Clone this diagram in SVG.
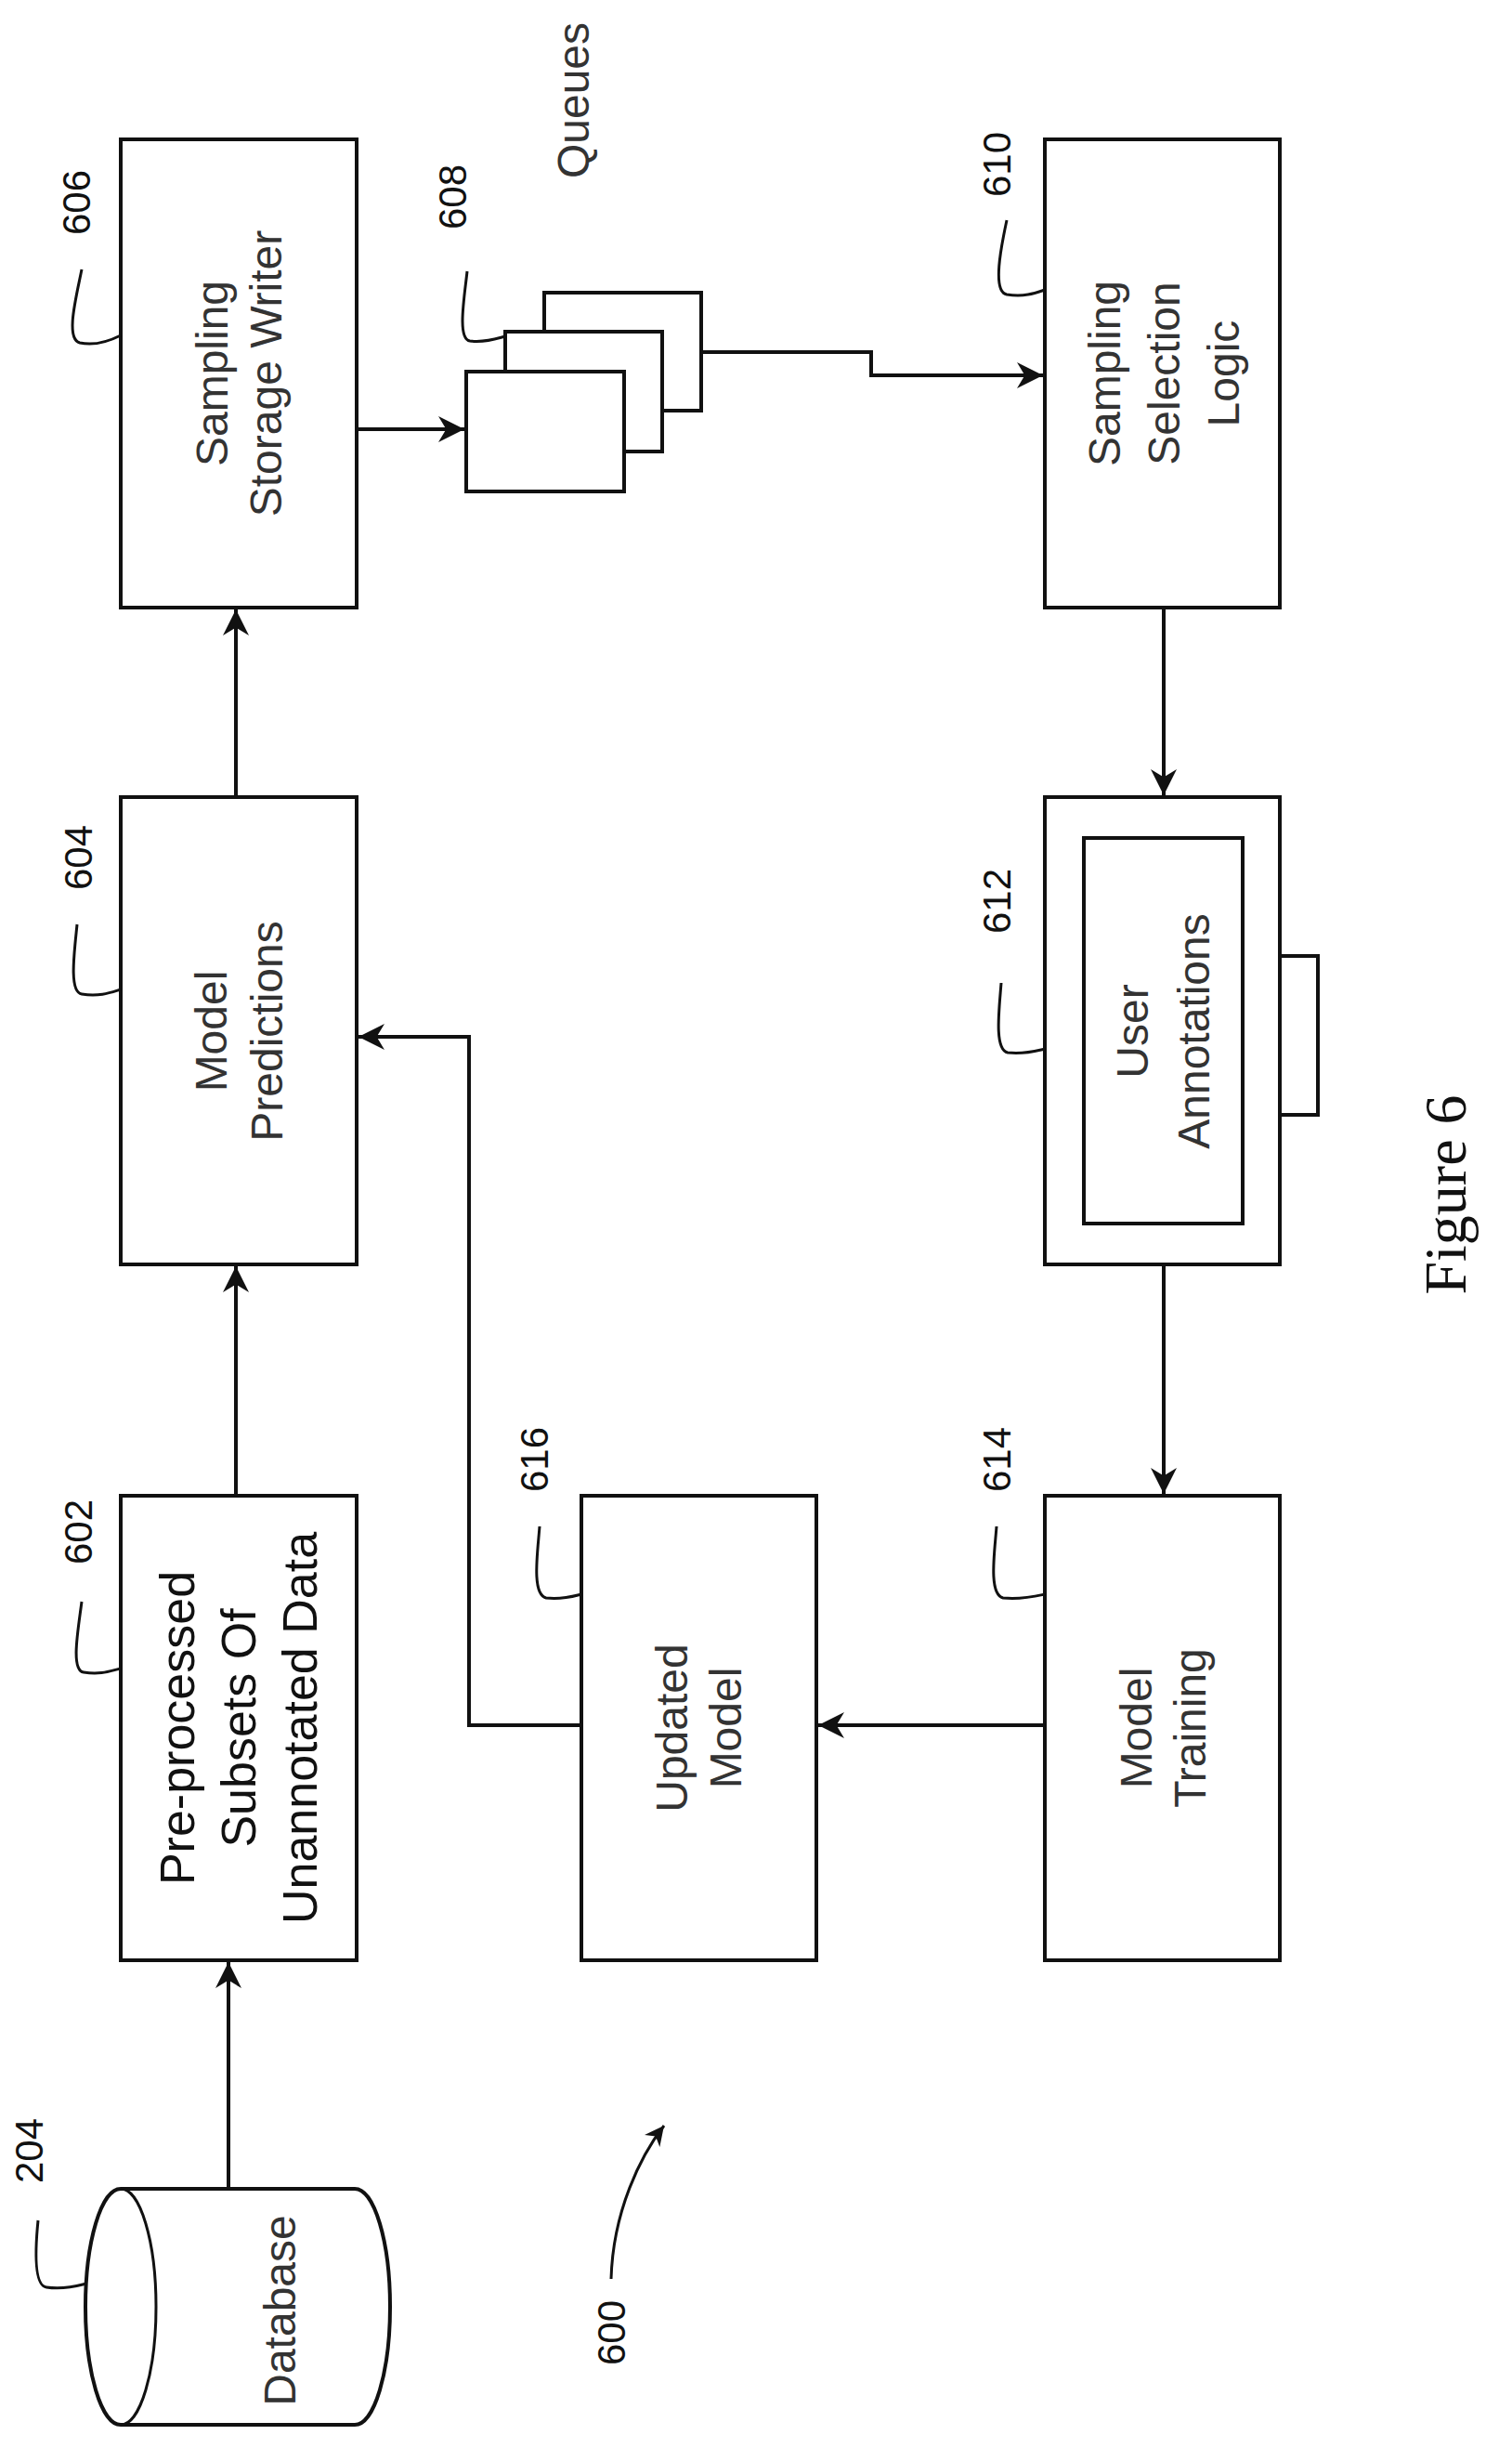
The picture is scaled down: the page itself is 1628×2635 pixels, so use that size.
<svg xmlns="http://www.w3.org/2000/svg" width="1628" height="2635" viewBox="0 0 1628 2635">
<style>
.box{fill:#fff;stroke:#111;stroke-width:4}
.ln{fill:none;stroke:#111;stroke-width:4}
.ld{fill:none;stroke:#111;stroke-width:3}
.num{font-family:"Liberation Sans",Arial,sans-serif;font-size:42px;fill:#111;text-anchor:middle;dominant-baseline:central}
.lbl{font-family:"Liberation Sans",Arial,sans-serif;font-size:48px;fill:#333;text-anchor:middle;dominant-baseline:central}
.lbl2{font-family:"Liberation Sans",Arial,sans-serif;font-size:52px;fill:#111;text-anchor:middle;dominant-baseline:central}
</style>
<defs>
<marker id="ah" viewBox="0 0 10 10" refX="10" refY="5" markerWidth="7" markerHeight="7" markerUnits="strokeWidth" orient="auto"><path d="M0,0 L10,5 L0,10 L3,5 Z" fill="#111"/></marker>
</defs>
<rect width="1628" height="2635" fill="#fff"/>

<g id="connectors">
<path class="ln" d="M246,2356 V2112" stroke-width="6" marker-end="url(#ah)"/>
<path class="ln" d="M254,1610 V1363" marker-end="url(#ah)"/>
<path class="ln" d="M254,858 V656" marker-end="url(#ah)"/>
<path class="ln" d="M384,462 H500" marker-end="url(#ah)"/>
<path class="ln" d="M755,379 H938 V404 H1123" marker-end="url(#ah)"/>
<path class="ln" d="M1253,654 V856" marker-end="url(#ah)"/>
<path class="ln" d="M1253,1361 V1608" marker-end="url(#ah)"/>
<path class="ln" d="M1125,1857 H881" marker-end="url(#ah)"/>
<path class="ln" d="M626,1857 H505 V1116 H386" marker-end="url(#ah)"/>
<path class="ld" d="M658,2453 C660,2380 690,2320 715,2288" marker-end="url(#ah)"/>
</g>

<g id="n204">
<path class="box" d="M130,2356 H382 A38,127 0 0 1 382,2610 H130 A38,127 0 0 1 130,2356 Z"/>
<path class="ld" d="M130,2356 A38,127 0 0 1 130,2610"/>
<text class="lbl" transform="translate(301,2487) rotate(-90)">Database</text>
<path class="ld" d="M41,2390 C38,2420 36,2460 50,2462 C70,2465 85,2460 93,2458"/>
<text class="num" transform="translate(31,2315) rotate(-90)">204</text>
</g>

<g id="n602">
<rect class="box" x="130" y="1610" width="254" height="500"/>
<g transform="translate(257,1860) rotate(-90)">
<text class="lbl2" x="0" y="-66">Pre-processed</text>
<text class="lbl2" x="0" y="0">Subsets Of</text>
<text class="lbl2" x="0" y="66">Unannotated Data</text>
</g>
<path class="ld" d="M88,1724 C84,1755 76,1798 90,1800 C110,1803 120,1798 130,1796"/>
<text class="num" transform="translate(84,1649) rotate(-90)">602</text>
</g>

<g id="n604">
<rect class="box" x="130" y="858" width="254" height="503"/>
<g transform="translate(257,1110) rotate(-90)">
<text class="lbl" x="0" y="-30">Model</text>
<text class="lbl" x="0" y="30">Predictions</text>
</g>
<path class="ld" d="M83,995 C80,1025 74,1068 88,1070 C108,1073 120,1068 130,1065"/>
<text class="num" transform="translate(84,923) rotate(-90)">604</text>
</g>

<g id="n606">
<rect class="box" x="130" y="150" width="254" height="504"/>
<g transform="translate(257,402) rotate(-90)">
<text class="lbl" x="0" y="-29">Sampling</text>
<text class="lbl" x="0" y="29">Storage Writer</text>
</g>
<path class="ld" d="M88,290 C82,320 70,365 86,369 C104,373 120,366 130,361"/>
<text class="num" transform="translate(82,218) rotate(-90)">606</text>
</g>

<g id="n608">
<rect class="box" x="586" y="315" width="169" height="127"/>
<rect class="box" x="544" y="357" width="169" height="129"/>
<rect class="box" x="502" y="400" width="170" height="129"/>
<path class="ld" d="M503,292 C500,320 492,365 506,367 C524,369 536,364 544,362"/>
<text class="num" transform="translate(487,212) rotate(-90)">608</text>
<text class="lbl" transform="translate(617,108) rotate(-90)">Queues</text>
</g>

<g id="n610">
<rect class="box" x="1125" y="150" width="253" height="504"/>
<g transform="translate(1253,402) rotate(-90)">
<text class="lbl" x="0" y="-64">Sampling</text>
<text class="lbl" x="0" y="0">Selection</text>
<text class="lbl" x="0" y="64">Logic</text>
</g>
<path class="ld" d="M1084,237 C1078,265 1068,314 1084,317 C1104,320 1116,315 1125,312"/>
<text class="num" transform="translate(1073,177) rotate(-90)">610</text>
</g>

<g id="n612">
<rect class="box" x="1378" y="1029" width="41" height="171"/>
<rect class="box" x="1125" y="858" width="253" height="503"/>
<rect class="box" x="1167" y="902" width="171" height="415"/>
<g transform="translate(1252,1110) rotate(-90)">
<text class="lbl" x="0" y="-33">User</text>
<text class="lbl" x="0" y="33">Annotations</text>
</g>
<path class="ld" d="M1078,1058 C1076,1085 1070,1130 1085,1133 C1104,1135 1116,1131 1125,1129"/>
<text class="num" transform="translate(1073,970) rotate(-90)">612</text>
</g>

<g id="n614">
<rect class="box" x="1125" y="1610" width="253" height="500"/>
<g transform="translate(1252,1860) rotate(-90)">
<text class="lbl" x="0" y="-29">Model</text>
<text class="lbl" x="0" y="29">Training</text>
</g>
<path class="ld" d="M1073,1643 C1071,1670 1064,1716 1080,1720 C1100,1722 1116,1718 1125,1716"/>
<text class="num" transform="translate(1073,1571) rotate(-90)">614</text>
</g>

<g id="n616">
<rect class="box" x="626" y="1610" width="253" height="500"/>
<g transform="translate(752,1860) rotate(-90)">
<text class="lbl" x="0" y="-29">Updated</text>
<text class="lbl" x="0" y="29">Model</text>
</g>
<path class="ld" d="M581,1643 C579,1670 572,1716 588,1720 C606,1722 618,1718 626,1716"/>
<text class="num" transform="translate(575,1571) rotate(-90)">616</text>
</g>

<g id="n600">
<text class="num" transform="translate(658,2511) rotate(-90)">600</text>
</g>

<text transform="translate(1556,1286) rotate(-90)" font-family="Liberation Serif,'Times New Roman',serif" font-size="64" fill="#111" text-anchor="middle" dominant-baseline="central">Figure 6</text>
</svg>
